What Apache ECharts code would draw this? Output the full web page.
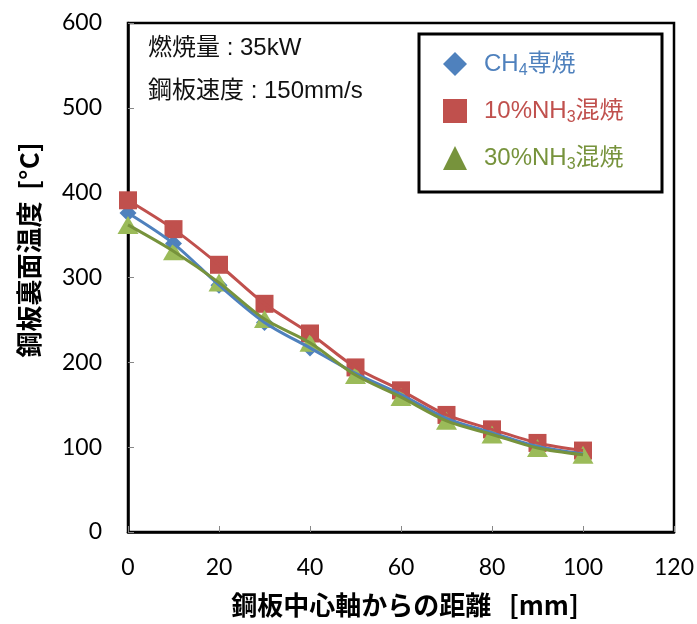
<!DOCTYPE html>
<html>
<head>
<meta charset="utf-8">
<script src="https://cdn.jsdelivr.net/npm/echarts@6/dist/echarts.min.js"></script>
<style>
  html, body { margin: 0; padding: 0; background: #fff; }
  #chart { width: 697px; height: 624px; }
</style>
</head>
<body>
<div id="chart"></div>
<script>
// Distance from the steel plate centre axis [mm]
const distance = [0, 10, 20, 30, 40, 50, 60, 70, 80, 90, 100];
// Back-surface temperature of the steel plate [°C]
const ch4Only = [376, 340, 291, 247, 217, 187, 162, 134, 117, 101, 92];
const nh3Mix10 = [391, 357, 315, 269, 234, 194, 167, 138, 121, 105, 96];
const nh3Mix30 = [362, 331, 294, 251, 223, 185, 159, 131, 115, 99, 91];

const seriesNames = ['CH4専焼', '10%NH3混焼', '30%NH3混焼'];
const xTicks = { min: 0, max: 120, interval: 20 };
const yTicks = { min: 0, max: 600, interval: 100 };

const BLUE = '#4F81BD', RED = '#C0504D', GREEN_LINE = '#77933C', GREEN_MARK = '#9BBB59';
const JP = '"Liberation Sans", "Noto Sans CJK JP", sans-serif';
const JP_BOLD = '"Noto Sans CJK JP", sans-serif';
const NUM = 'Lato, "Liberation Sans", sans-serif';

const pairs = ys => distance.map((x, i) => [x, ys[i]]);

const chart = echarts.init(document.getElementById('chart'), null, { renderer: 'canvas' });

function richFor(color) {
  return {
    t: { color: color, fontSize: 24, fontFamily: JP, lineHeight: 30 },
    s: { color: color, fontSize: 16, fontFamily: JP, verticalAlign: 'bottom', lineHeight: 30, padding: [12, 0, 0, 0] }
  };
}

const legendRich = {};
[['b', BLUE], ['r', RED], ['g', GREEN_LINE]].forEach(([k, c]) => {
  const r = richFor(c);
  legendRich[k] = r.t;
  legendRich[k + 's'] = r.s;
});

chart.setOption({
  animation: false,
  backgroundColor: '#fff',
  grid: {
    left: 128, right: 23, top: 23, bottom: 92,
    show: true, borderColor: '#000', borderWidth: 2.5,
    containLabel: false, outerBoundsMode: 'none'
  },
  xAxis: {
    type: 'value', min: xTicks.min, max: xTicks.max, interval: xTicks.interval,
    name: '鋼板中心軸からの距離   [mm]', nameLocation: 'middle', nameGap: 60,
    nameTextStyle: { fontSize: 26, fontWeight: 'bold', color: '#000', fontFamily: JP_BOLD, padding: [0, 0, 0, 8] },
    axisLine: { show: true, lineStyle: { color: '#000', width: 2.5 } },
    axisTick: { show: true, inside: true, length: 6, lineStyle: { color: '#888', width: 1 } },
    axisLabel: { fontSize: 23, color: '#000', margin: 24, fontFamily: NUM },
    splitLine: { show: false }
  },
  yAxis: {
    type: 'value', min: yTicks.min, max: yTicks.max, interval: yTicks.interval,
    axisLine: { show: true, lineStyle: { color: '#000', width: 2.5 } },
    axisTick: { show: true, inside: true, length: 6, lineStyle: { color: '#888', width: 1 } },
    axisLabel: { fontSize: 23, color: '#000', margin: 26, fontFamily: NUM },
    splitLine: { show: false }
  },
  legend: {
    orient: 'vertical', left: 438, top: 46, itemGap: 19,
    itemWidth: 24, itemHeight: 24,
    data: [
      { name: seriesNames[0], icon: 'diamond', itemStyle: { color: BLUE } },
      { name: seriesNames[1], icon: 'rect', itemStyle: { color: RED } },
      { name: seriesNames[2], icon: 'triangle', itemStyle: { color: GREEN_LINE } }
    ],
    formatter: name => {
      if (name === seriesNames[0]) return '{b|CH}{bs|4}{b|専焼}';
      if (name === seriesNames[1]) return '{r|10%NH}{rs|3}{r|混焼}';
      return '{g|30%NH}{gs|3}{g|混焼}';
    },
    textStyle: { rich: legendRich, padding: [0, 0, 0, 12] }
  },
  graphic: [
    { type: 'rect', shape: { x: 419, y: 34, width: 243, height: 158 }, style: { fill: 'none', stroke: '#000', lineWidth: 3 }, z: 10 },
    { type: 'text', left: 148, top: 36, style: { text: '燃焼量 : 35kW', fontSize: 24, fill: '#111', fontFamily: JP }, z: 10 },
    { type: 'text', left: 148, top: 79, style: { text: '鋼板速度 : 150mm/s', fontSize: 24, fill: '#111', fontFamily: JP }, z: 10 },
    // vertical axis title, reading bottom to top
    { type: 'text', x: 29, y: 250, rotation: Math.PI / 2,
      style: { text: '鋼板裏面温度  [°C]', fontSize: 26, fontWeight: 'bold', fill: '#000', fontFamily: JP_BOLD, align: 'center', verticalAlign: 'middle' }, z: 10 }
  ],
  series: [
    { name: seriesNames[0], type: 'scatter', data: pairs(ch4Only), symbol: 'diamond', symbolSize: [17, 17], itemStyle: { color: BLUE, opacity: 1 }, z: 2 },
    { name: seriesNames[1], type: 'scatter', data: pairs(nh3Mix10), symbol: 'rect', symbolSize: [18, 18], itemStyle: { color: RED, opacity: 1 }, z: 2 },
    { name: seriesNames[2], type: 'scatter', data: pairs(nh3Mix30), symbol: 'triangle', symbolSize: [21, 18], itemStyle: { color: GREEN_MARK, opacity: 1 }, z: 2 },
    { name: 'ch4-fit', type: 'line', data: pairs(ch4Only), smooth: 0.3, showSymbol: false, lineStyle: { color: BLUE, width: 3 }, z: 3 },
    { name: 'nh3-10-fit', type: 'line', data: pairs(nh3Mix10), smooth: 0.3, showSymbol: false, lineStyle: { color: RED, width: 3 }, z: 3 },
    { name: 'nh3-30-fit', type: 'line', data: pairs(nh3Mix30), smooth: 0.3, showSymbol: false, lineStyle: { color: GREEN_LINE, width: 3 }, z: 3 }
  ]
});
</script>
</body>
</html>
